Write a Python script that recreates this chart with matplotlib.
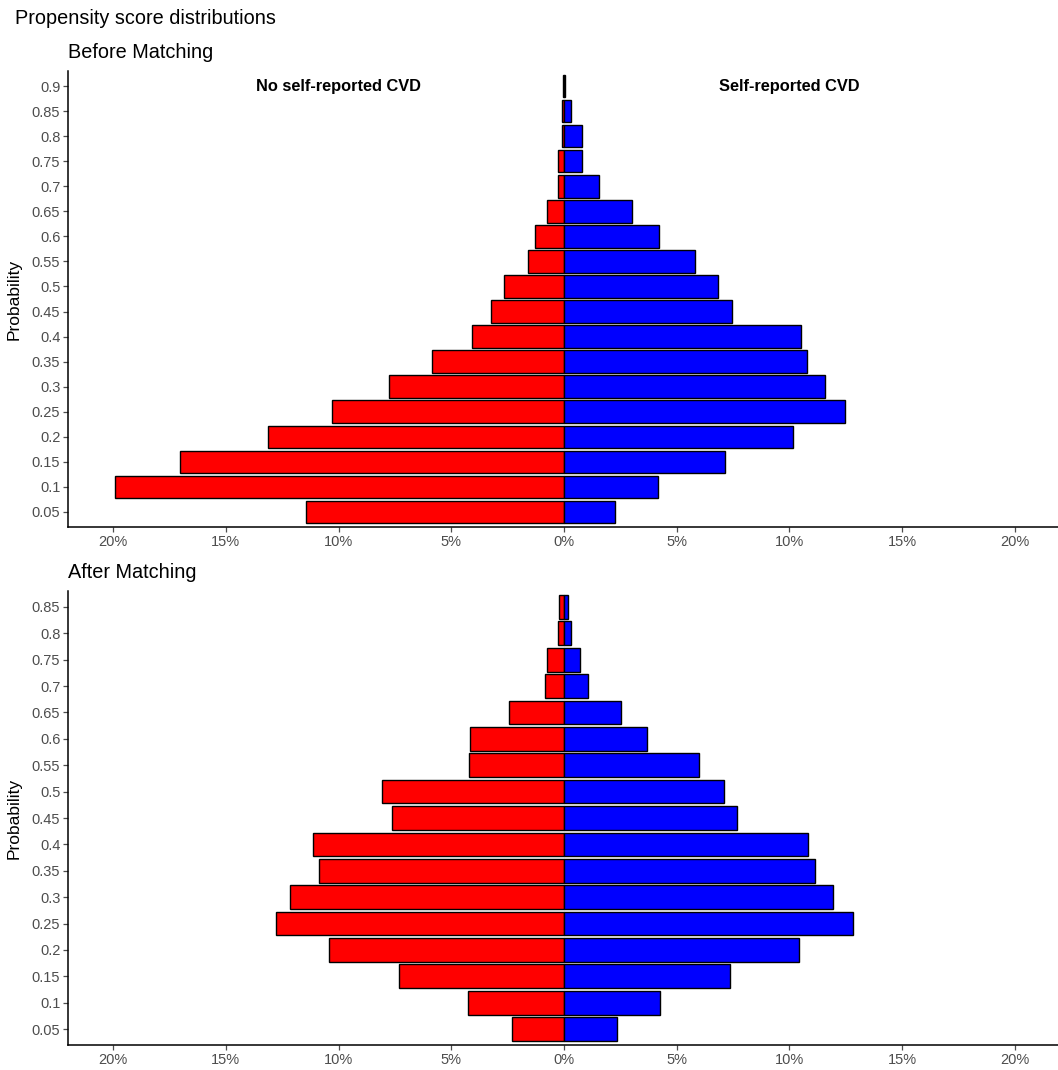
#!/usr/bin/env python3
"""Propensity score distributions, before and after matching."""

import sys

import matplotlib
matplotlib.use('Agg')
import matplotlib.pyplot as plt
from matplotlib.ticker import FuncFormatter

# Before matching (percent of each group)
before_bins = ['0.05', '0.1', '0.15', '0.2', '0.25', '0.3', '0.35', '0.4', '0.45',
               '0.5', '0.55', '0.6', '0.65', '0.7', '0.75', '0.8', '0.85', '0.9']
before_no_cvd = [11.44, 19.92, 17.04, 13.15, 10.29, 7.78, 5.87, 4.08, 3.22,
                 2.65, 1.60, 1.30, 0.76, 0.25, 0.25, 0.10, 0.08, 0.03]
before_cvd = [2.27, 4.16, 7.12, 10.15, 12.45, 11.56, 10.80, 10.50, 7.43,
              6.85, 5.79, 4.21, 3.03, 1.55, 0.78, 0.78, 0.31, 0.03]

# After matching
after_bins = ['0.05', '0.1', '0.15', '0.2', '0.25', '0.3', '0.35', '0.4', '0.45',
              '0.5', '0.55', '0.6', '0.65', '0.7', '0.75', '0.8', '0.85']
after_no_cvd = [2.30, 4.26, 7.32, 10.42, 12.78, 12.14, 10.88, 11.14, 7.63,
                8.09, 4.22, 4.15, 2.42, 0.83, 0.77, 0.26, 0.21]
after_cvd = [2.35, 4.28, 7.35, 10.44, 12.82, 11.92, 11.14, 10.81, 7.67,
             7.08, 5.97, 3.70, 2.54, 1.08, 0.69, 0.32, 0.16]

x_ticks = [-20, -15, -10, -5, 0, 5, 10, 15, 20]

W, H = 1058, 1070
GREY = '#4D4D4D'

plt.rcParams['font.family'] = ['Liberation Sans', 'DejaVu Sans']


def draw_panel(ax, bins, left, right):
    pos = list(range(len(bins)))
    ax.barh(pos, [-v for v in left], height=0.9, color='#FF0000',
            edgecolor='black', linewidth=1.0)
    ax.barh(pos, right, height=0.9, color='#0000FF',
            edgecolor='black', linewidth=1.0)
    ax.set_xlim(-22, 22)
    ax.set_ylim(-0.6, len(bins) - 0.4)
    ax.set_yticks(pos)
    ax.set_yticklabels(bins)
    ax.set_xticks(x_ticks)
    ax.xaxis.set_major_formatter(FuncFormatter(lambda v, _: f'{abs(v):.0f}%'))
    for s in ('top', 'right'):
        ax.spines[s].set_visible(False)
    for s in ('left', 'bottom'):
        ax.spines[s].set_linewidth(1.1)
        ax.spines[s].set_color('black')
    ax.tick_params(axis='both', colors=GREY, labelcolor=GREY, labelsize=10.5,
                   length=3.5, width=0.9, pad=2)
    ax.set_ylabel('Probability', fontsize=12.5, color='black')
    ax.yaxis.set_label_coords(-0.047, 0.5)


def main() -> int:
    fig = plt.figure(figsize=(W / 100, H / 100), dpi=100)

    ax1 = fig.add_axes([68 / W, 1 - 527 / H, (1060 - 68) / W, (527 - 71) / H])
    ax2 = fig.add_axes([68 / W, 1 - 1045 / H, (1060 - 68) / W, (1045 - 591) / H])

    draw_panel(ax1, before_bins, before_no_cvd, before_cvd)
    draw_panel(ax2, after_bins, after_no_cvd, after_cvd)

    top = len(before_bins) - 1
    ax1.text(-10, top, 'No self-reported CVD', ha='center', va='center',
             fontsize=11.8, fontweight='bold')
    ax1.text(10, top, 'Self-reported CVD', ha='center', va='center',
             fontsize=11.8, fontweight='bold')

    fig.text(15 / W, 1 - 18 / H, 'Propensity score distributions',
             ha='left', va='center', fontsize=14.3)
    fig.text(68 / W, 1 - 52 / H, 'Before Matching', ha='left', va='center',
             fontsize=14.3)
    fig.text(68 / W, 1 - 572 / H, 'After Matching', ha='left', va='center',
             fontsize=14.3)

    fig.savefig('out.png', dpi=100)
    return 0


if __name__ == '__main__':
    sys.exit(main())
